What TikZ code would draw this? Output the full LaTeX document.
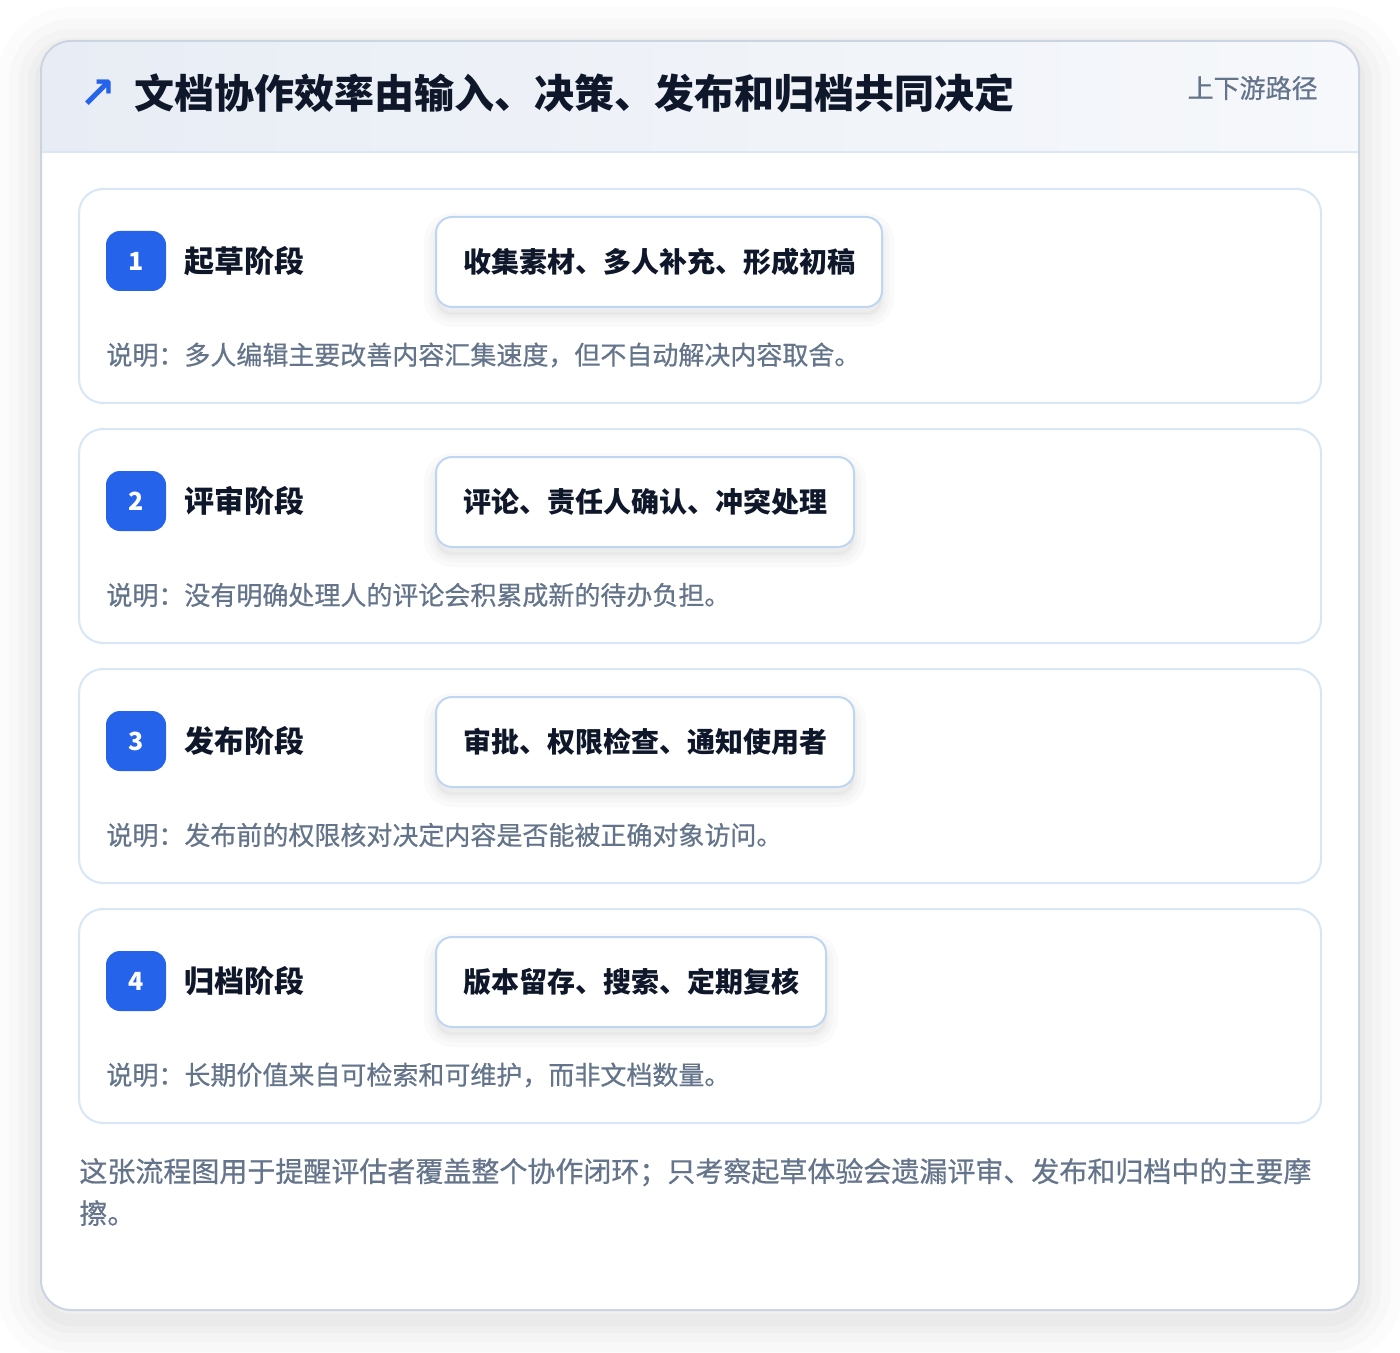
\documentclass[tikz,border=0pt]{standalone}
\usepackage{fontspec}
\setmainfont{Noto Sans CJK SC}
\newfontfamily\notefont[FakeBold=0.6]{Noto Sans CJK SC}
\newfontfamily\symfont{DejaVu Sans}
\usetikzlibrary{positioning}

\definecolor{accent}{HTML}{2563EB}
\definecolor{ink}{HTML}{0F172A}
\definecolor{muted}{HTML}{64748B}
\definecolor{frameline}{HTML}{CBD5E1}
\definecolor{cardline}{HTML}{D9E6F6}
\definecolor{boxline}{HTML}{BFD6F2}
\definecolor{headleft}{HTML}{E8EDF5}
\definecolor{headright}{HTML}{F6F8FB}
\definecolor{headrule}{HTML}{DCE7F4}

\tikzset{
  boxshadow/.style={
    preaction={draw=black, draw opacity=0.02, line width=12pt, transform canvas={yshift=-4pt}},
    preaction={draw=black, draw opacity=0.02, line width=7pt, transform canvas={yshift=-4pt}},
    preaction={draw=black, draw opacity=0.02, line width=3pt, transform canvas={yshift=-4pt}},
    preaction={fill=black, fill opacity=0.03, transform canvas={yshift=-4pt}}},
  cardshadow/.style={
    preaction={draw=black, draw opacity=0.012, line width=44pt, transform canvas={yshift=-5pt}},
    preaction={draw=black, draw opacity=0.014, line width=32pt, transform canvas={yshift=-5pt}},
    preaction={draw=black, draw opacity=0.016, line width=22pt, transform canvas={yshift=-5pt}},
    preaction={draw=black, draw opacity=0.018, line width=13pt, transform canvas={yshift=-5pt}},
    preaction={draw=black, draw opacity=0.02, line width=6pt, transform canvas={yshift=-5pt}}}
}

\begin{document}
\begin{tikzpicture}[x=0.5pt, y=-0.5pt,
  stagecard/.style={draw=cardline, fill=white, line width=1pt, rounded corners=12pt},
  badge/.style={fill=accent, rounded corners=7pt, minimum size=30pt, inner sep=0pt, text=white, font=\bfseries\fontsize{12.5}{14}\selectfont},
  stagename/.style={anchor=west, inner sep=0pt, text=ink, font=\bfseries\fontsize{15}{18}\selectfont},
  actbox/.style={anchor=west, draw=boxline, fill=white, line width=1pt, rounded corners=8pt, minimum height=45pt, inner xsep=13.5pt, text=ink, font=\bfseries\fontsize{14}{17}\selectfont, boxshadow},
  note/.style={anchor=west, inner sep=0pt, text=muted, font=\notefont\fontsize{13}{16}\selectfont}]

\useasboundingbox[fill=white] (0,0) rectangle (1400,1352);

% outer card with header band
\fill[white, rounded corners=15pt, cardshadow] (41,41) rectangle (1359,1310);
\begin{scope}
\clip[rounded corners=15pt] (41,41) rectangle (1359,1310);
\shade[left color=headleft, right color=headright] (41,41) rectangle (1359,152);
\end{scope}
\draw[headrule, line width=1pt] (41,152) -- (1359,152);
\draw[frameline, line width=1pt, rounded corners=15pt] (41,41) rectangle (1359,1310);

\node[text=accent, inner sep=0pt, font=\symfont\bfseries\fontsize{22}{24}\selectfont] (arrow) at (98,94) {↗};
\node[anchor=west, inner sep=0pt, text=ink, font=\bfseries\fontsize{20}{24}\selectfont] (title) at (134,93) {文档协作效率由输入、决策、发布和归档共同决定};
\node[anchor=east, inner sep=0pt, text=muted, font=\notefont\fontsize{13}{16}\selectfont] (tag) at (1318,88) {上下游路径};

% stage 1
\def\y{189}
\draw[stagecard] (79,\y) rectangle (1321,\y+214);
\node[badge] (b1) at (136,\y+72) {1};
\node[stagename] (s1) at (184,\y+72) {起草阶段};
\node[actbox] (a1) at (435,\y+73) {收集素材、多人补充、形成初稿};
\node[note] (n1) at (106,\y+166) {说明：多人编辑主要改善内容汇集速度，但不自动解决内容取舍。};

% stage 2
\def\y{429}
\draw[stagecard] (79,\y) rectangle (1321,\y+214);
\node[badge] (b2) at (136,\y+72) {2};
\node[stagename] (s2) at (184,\y+72) {评审阶段};
\node[actbox] (a2) at (435,\y+73) {评论、责任人确认、冲突处理};
\node[note] (n2) at (106,\y+166) {说明：没有明确处理人的评论会积累成新的待办负担。};

% stage 3
\def\y{669}
\draw[stagecard] (79,\y) rectangle (1321,\y+214);
\node[badge] (b3) at (136,\y+72) {3};
\node[stagename] (s3) at (184,\y+72) {发布阶段};
\node[actbox] (a3) at (435,\y+73) {审批、权限检查、通知使用者};
\node[note] (n3) at (106,\y+166) {说明：发布前的权限核对决定内容是否能被正确对象访问。};

% stage 4
\def\y{909}
\draw[stagecard] (79,\y) rectangle (1321,\y+214);
\node[badge] (b4) at (136,\y+72) {4};
\node[stagename] (s4) at (184,\y+72) {归档阶段};
\node[actbox] (a4) at (435,\y+73) {版本留存、搜索、定期复核};
\node[note] (n4) at (106,\y+166) {说明：长期价值来自可检索和可维护，而非文档数量。};

\node[anchor=west, inner sep=0pt, align=left, text=muted, font=\notefont\fontsize{14}{21}\selectfont] (footer) at (79,1192) {这张流程图用于提醒评估者覆盖整个协作闭环；只考察起草体验会遗漏评审、发布和归档中的主要摩\\擦。};

\end{tikzpicture}
\end{document}
